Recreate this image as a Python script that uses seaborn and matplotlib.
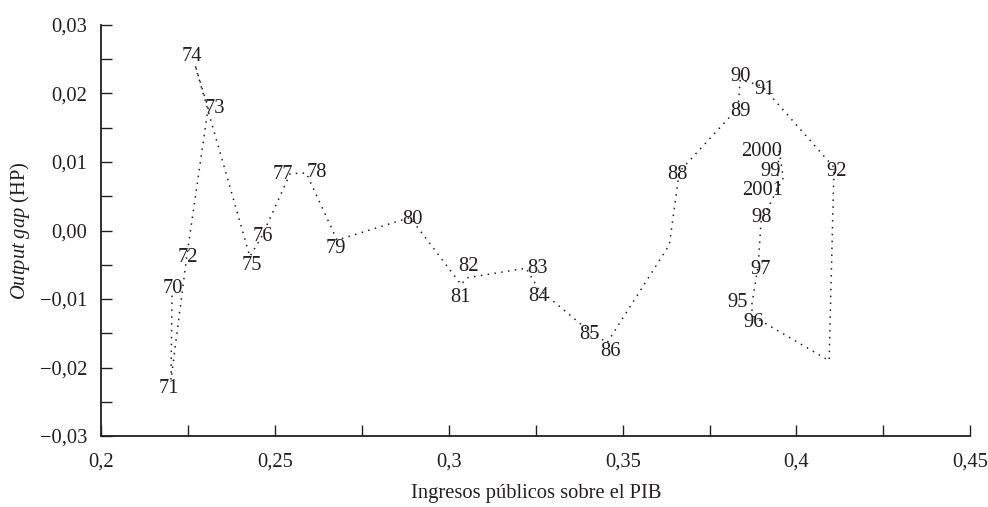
import matplotlib
matplotlib.use("Agg")
import matplotlib.pyplot as plt
import seaborn as sns
import pandas as pd

# Data (path order)
years = ["70", "71", "72", "73", "74", "75", "76", "77", "78", "79",
         "80", "81", "82", "83", "84", "85", "86", "87", "88", "89",
         "90", "91", "92", "93", "95", "96", "97", "98", "99", "2000", "2001"]
ingresos = [0.2203, 0.2200, 0.2246, 0.2307, 0.2269, 0.2427, 0.2462, 0.2543, 0.2589, 0.2678,
            0.2888, 0.3035, 0.3052, 0.3222, 0.3257, 0.3392, 0.3455, 0.3634, 0.3663, 0.3832,
            0.3838, 0.3901, 0.4108, 0.4094, 0.3878, 0.3870, 0.3890, 0.3898, 0.3962, 0.3950, 0.3944]
output_gap = [-0.0095, -0.0218, -0.0036, 0.0179, 0.0242, -0.0038, -0.0008, 0.0083, 0.0084, -0.0014,
              0.0019, -0.0079, -0.0069, -0.0055, -0.0085, -0.0142, -0.0164, -0.0021, 0.0086, 0.0179,
              0.0220, 0.0211, 0.0092, -0.0190, -0.0126, -0.0113, -0.0050, 0.0013, 0.0077, 0.0118, 0.0059]
hidden_labels = ["87", "93"]

x_ticks = [0.2, 0.25, 0.3, 0.35, 0.4, 0.45]
x_ticklabels = ["0,2", "0,25", "0,3", "0,35", "0,4", "0,45"]
y_ticks = [-0.03, -0.02, -0.01, 0.0, 0.01, 0.02, 0.03]
y_ticklabels = ["\u22120,03", "\u22120,02", "\u22120,01", "0,00", "0,01", "0,02", "0,03"]

# label placement (offset in pixels from the point)
label_offsets = {
    "70": (1, 7), "71": (-2, -9), "72": (1, -2), "73": (7, -1), "74": (-3, 8),
    "75": (2, -9), "76": (1, -1), "77": (-7, -1), "78": (11, 0), "79": (-1, -8),
    "80": (2, -2), "81": (-1, -13), "82": (1, 11), "83": (11, 0), "84": (0, -8),
    "85": (4, -7), "86": (3, -9), "88": (-2, -3), "89": (2, -4), "90": (0, 3),
    "91": (3, -4), "92": (3, -4), "95": (-16, 14), "96": (2, -15), "97": (2, -5),
    "98": (1, 4), "99": (-13, 6), "2000": (-17, -2), "2001": (-14, 0),
}

df = pd.DataFrame({"ingresos": ingresos, "gap": output_gap, "year": years})

sns.set_style("ticks")
plt.rcParams["font.family"] = ["Liberation Serif", "DejaVu Serif"]
plt.rcParams["mathtext.fontset"] = "custom"
plt.rcParams["mathtext.it"] = "Liberation Serif:italic"
plt.rcParams["mathtext.rm"] = "Liberation Serif"

ink = "#231f20"
fs = 14.8
fig = plt.figure(figsize=(9.88, 5.07), dpi=100)
ax = fig.add_axes([0.1027, 0.14, 0.8793, 0.8107])

sns.lineplot(data=df, x="ingresos", y="gap", sort=False, estimator=None, ax=ax,
             color=ink, linewidth=1.1, linestyle=(0, (1, 3.5)))

for xv, yv, lab in zip(ingresos, output_gap, years):
    if lab in hidden_labels:
        continue
    dx, dy = label_offsets.get(lab, (0, 0))
    ax.annotate(lab, (xv, yv), xytext=(dx, dy), textcoords="offset pixels",
                ha="center", va="center", fontsize=fs, color=ink)

ax.set_xlim(0.2, 0.45)
ax.set_ylim(-0.03, 0.03)
ax.set_xticks(x_ticks)
ax.set_xticklabels(x_ticklabels)
ax.set_yticks(y_ticks)
ax.set_yticklabels(y_ticklabels)
ax.set_xticks([0.225, 0.275, 0.325, 0.375, 0.425], minor=True)
ax.set_yticks([-0.025, -0.015, -0.005, 0.005, 0.015, 0.025], minor=True)
ax.tick_params(which="both", direction="in", length=8, width=1, color=ink,
               labelsize=fs, labelcolor=ink)
ax.tick_params(axis="x", which="both", pad=12)
ax.tick_params(axis="y", which="both", pad=10)

ax.set_xlabel("Ingresos públicos sobre el PIB", fontsize=fs, color=ink, labelpad=9)
ax.set_ylabel(r"$\mathit{Output\ gap}$ (HP)", fontsize=fs, color=ink, labelpad=6)

sns.despine(ax=ax)
for side in ["left", "bottom"]:
    ax.spines[side].set_color(ink)
    ax.spines[side].set_linewidth(1.3)

fig.savefig("out.png", dpi=100)
